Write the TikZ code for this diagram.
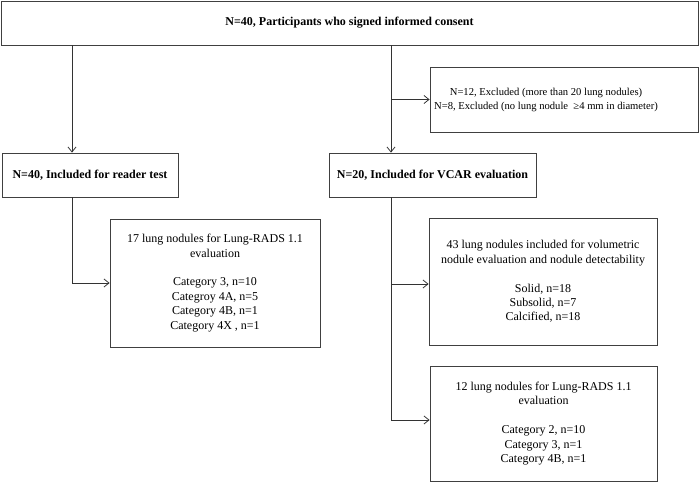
\documentclass[tikz,border=0pt]{standalone}
\usepackage{fontspec}
\setmainfont{Liberation Serif}
\usetikzlibrary{arrows.meta}
\begin{document}
\begin{tikzpicture}[
x=1pt, y=-1pt,
line width=0.8pt,
 box/.style args = {#1/#2}{%
      rectangle, draw=black!75, inner sep=0pt, align=center,
      minimum width=#1, minimum height=#2,
      font=\fontsize{12}{14.4}\selectfont},
 boldbox/.style = {box=#1, font=\fontsize{12}{14.4}\selectfont\bfseries},
 txt/.style = {align=center, inner sep=0pt,
      font=\fontsize{10.6}{14}\selectfont},
 arr/.style = {draw=black!80, -{Straight Barb[length=5pt,width=8pt]}}
                    ]
\useasboundingbox (0,0) rectangle (700,482);
\node(top)   [boldbox=697pt/44pt] at (349.5, 23) {N=40, Participants who signed informed consent};
\node(reader)[boldbox=176pt/44pt] at (90, 175) {N=40, Included for reader test};
\node(vcar)  [boldbox=207pt/44pt] at (432.5, 175) {N=20, Included for VCAR evaluation};
\node(excl)  [box=268pt/65pt] at (564, 99.5) {};
\node(excltxt) [txt] at (546, 100) {N=12, Excluded (more than 20 lung nodules)\\
      N=8, Excluded (no lung nodule\ \ ≥4 mm in diameter)};
\node(rads1) [box=210pt/128pt] at (215, 283) {17 lung nodules for Lung-RADS 1.1\\ evaluation\\[14.4pt]
      Category 3, n=10\\ Categroy 4A, n=5\\ Category 4B, n=1\\ Category 4X , n=1};
\node(volu)  [box=228pt/127pt] at (543, 281.5) {43 lung nodules included for volumetric\\
      nodule evaluation and nodule detectability\\[14.4pt]
      Solid, n=18\\ Subsolid, n=7\\ Calcified, n=18};
\node(rads2) [box=227pt/115pt] at (543.5, 423.5) {12 lung nodules for Lung-RADS 1.1\\ evaluation\\[14.4pt]
      Category 2, n=10\\ Category 3, n=1\\ Category 4B, n=1};
%
\coordinate (lx) at (72, 0);
\coordinate (rx) at (391, 0);
\draw[arr] (top.south -| lx)    -- (reader.north -| lx);
\draw[arr] (top.south -| rx)    -- (vcar.north -| rx);
\draw[arr] (excl.west -| rx)    -- (excl.west);
\draw[arr] (reader.south -| lx) |- (rads1.west);
\draw[arr] (vcar.south -| rx)   |- ([yshift=-2.5pt]volu.west);
\draw[arr] (vcar.south -| rx)   |- ([yshift=3.5pt]rads2.west);
\end{tikzpicture}
\end{document}
